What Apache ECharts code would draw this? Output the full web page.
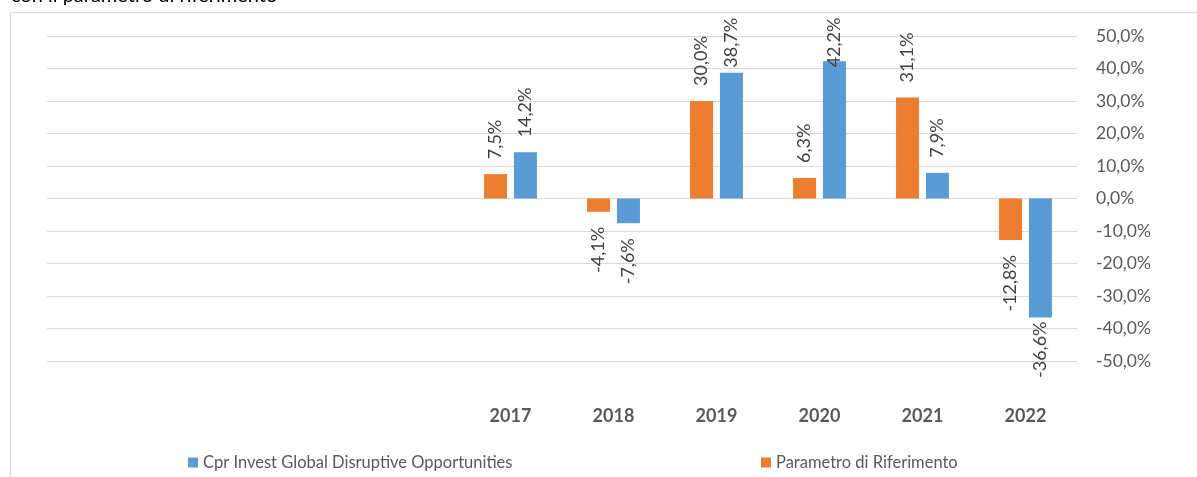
<!DOCTYPE html>
<html>
<head>
<meta charset="utf-8">
<script src="https://cdn.jsdelivr.net/npm/echarts@6/dist/echarts.min.js"></script>
<style>
  html, body { margin: 0; padding: 0; background: #fff; }
  #chart { width: 1197px; height: 477px; }
</style>
</head>
<body>
<div id="chart"></div>
<script>
// categories (first four years have no data and no label)
const years = ['', '', '', '', '2017', '2018', '2019', '2020', '2021', '2022']
const benchmarkName = 'Parametro di Riferimento'
const fundName = 'Cpr Invest Global Disruptive Opportunities'
const benchmark = [null, null, null, null, 7.5, -4.1, 30.0, 6.3, 31.1, -12.8]
const fund = [null, null, null, null, 14.2, -7.6, 38.7, 42.2, 7.9, -36.6]
const yTicks = { min: -50, max: 50, step: 10 }

const pct = v => v.toFixed(1).replace('.', ',') + '%'
const font = 'Lato, "Open Sans", sans-serif'

// label distance tweaks where the label would run past the plot
const labelDistance = { fund: { 6: 5, 7: -6, 9: 4 }, benchmark: {} }

function buildData(values, key) {
  return values.map((v, i) => {
    if (v == null) return null
    const d = labelDistance[key][i] ?? 15
    return {
      value: v,
      label: v >= 0
        ? { position: 'top', align: 'left', distance: d }
        : { position: 'bottom', align: 'right', distance: d },
    }
  })
}

const labelBase = {
  show: true,
  rotate: 90,
  verticalAlign: 'middle',
  color: '#404040',
  fontSize: 18,
  fontFamily: font,
  formatter: p => pct(p.value),
}

const legendText = { color: '#595959', fontSize: 16.5, fontFamily: font }

const chart = echarts.init(document.getElementById('chart'))
chart.setOption({
  animation: false,
  backgroundColor: '#fff',
  textStyle: { fontFamily: font },
  graphic: [
    {
      type: 'rect',
      shape: { x: 10.5, y: 12.5, width: 1400, height: 600 },
      style: { fill: 'none', stroke: '#d9d9d9', lineWidth: 1 },
      silent: true,
    },
    {
      type: 'text',
      x: 11,
      y: 6,
      style: { text: 'con il parametro di riferimento', font: '20px ' + font, fill: '#000', verticalAlign: 'bottom' },
      silent: true,
    },
  ],
  grid: { left: 47, right: 120, top: 36, height: 325 },
  legend: [
    {
      data: [fundName],
      left: 188, top: 454, padding: 0,
      itemWidth: 10, itemHeight: 10, itemGap: 4,
      icon: 'rect',
      textStyle: legendText,
    },
    {
      data: [benchmarkName],
      left: 761, top: 454, padding: 0,
      itemWidth: 10, itemHeight: 10, itemGap: 4,
      icon: 'rect',
      textStyle: legendText,
    },
  ],
  xAxis: {
    type: 'category',
    data: years,
    axisLine: { show: false, onZero: false },
    axisTick: { show: false },
    axisLabel: { color: '#595959', fontSize: 18, fontWeight: 'bold', fontFamily: font, margin: 46 },
  },
  yAxis: {
    type: 'value',
    position: 'right',
    min: yTicks.min,
    max: yTicks.max,
    interval: yTicks.step,
    axisLine: { show: false },
    axisTick: { show: false },
    splitLine: { lineStyle: { color: '#d9d9d9', width: 1 } },
    axisLabel: { color: '#595959', fontSize: 17.5, fontFamily: font, margin: 19, formatter: v => pct(v) },
  },
  series: [
    {
      name: benchmarkName,
      type: 'bar',
      data: buildData(benchmark, 'benchmark'),
      barWidth: 23,
      barGap: '30%',
      itemStyle: { color: '#ED7D31' },
      label: labelBase,
    },
    {
      name: fundName,
      type: 'bar',
      data: buildData(fund, 'fund'),
      barWidth: 23,
      itemStyle: { color: '#5B9BD5' },
      label: labelBase,
    },
  ],
})
</script>
</body>
</html>
